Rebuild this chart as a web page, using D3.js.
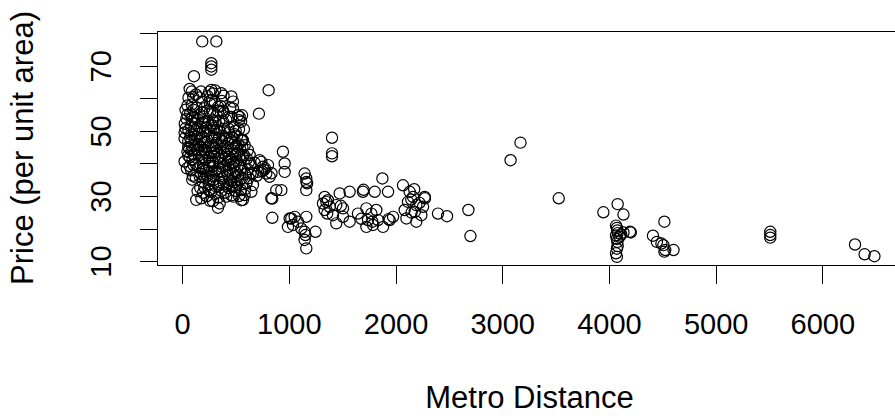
<!DOCTYPE html>
<html>
<head>
<meta charset="utf-8">
<script src="https://cdn.jsdelivr.net/npm/d3@7"></script>
<style>
body { margin: 0; background: #fff; }
svg text { font-family: "Liberation Sans", Arial, sans-serif; fill: #000; }
</style>
</head>
<body>
<svg width="895" height="418"></svg>
<script>
// metro distance vs price
var nearPoints = [
	[23.4,47.7],[23.4,49.5],[24.7,52.2],[49.7,55.0],[49.7,57.8],[57.6,45.1],[57.6,42.4],[23.4,40.6],[32.4,50.8],[40.8,53.7],[44.7,38.5],[49.7,43.6],[57.6,46.8],[32.4,56.5],
	[90.5,58.1],[90.5,62.1],[104.8,60.4],[104.8,56.5],[90.5,53.0],[82.9,51.4],[84.9,48.9],[84.9,46.6],[104.8,44.3],[72.1,41.9],[104.8,39.6],[84.9,37.9],[101.0,36.2],[111.2,66.8],[71.0,62.9],[112.3,50.2],[118.4,54.1],[118.4,47.4],[66.1,44.6],[75.2,55.4],[112.3,42.8],[95.0,35.0],
	[185.4,59.0],[185.4,55.6],[193.6,52.5],[196.6,50.0],[193.6,48.1],[150.9,46.0],[185.4,44.0],[157.6,42.5],[193.6,40.1],[196.6,38.3],[175.7,36.7],[193.6,34.4],[170.1,32.5],[180.0,29.3],[133.0,28.8],[150.9,53.5],[157.6,49.1],[170.1,45.3],[189.0,77.5],[135.0,57.2],[160.0,60.3],[185.4,42.0],[128.0,39.8],[165.0,36.0],[145.0,31.5],[196.6,31.0],[140.0,50.7],[178.0,62.1],
	[274.0,62.6],[274.0,70.8],[274.0,69.8],[274.0,68.8],[279.2,59.5],[208.4,57.0],[205.4,54.4],[279.2,51.6],[216.0,49.8],[279.2,47.9],[250.6,45.0],[274.0,43.2],[216.0,41.0],[250.6,39.2],[274.0,37.5],[216.0,35.6],[250.6,33.6],[274.0,31.3],[230.0,29.9],[262.0,55.9],[240.0,52.3],[262.0,58.4],[230.0,46.5],[262.0,40.7],[240.0,36.3],[208.4,32.7],[262.0,28.5],[216.0,44.1],[240.0,60.7],[205.4,38.6],[262.0,34.8],[279.2,45.2],[230.0,50.9],
	[321.0,77.5],[289.3,61.5],[306.6,58.8],[337.6,56.1],[289.3,53.2],[323.7,50.4],[306.6,48.0],[323.7,46.3],[306.6,44.7],[306.6,42.2],[289.3,40.5],[337.6,38.4],[323.7,36.8],[292.9,34.9],[337.6,33.1],[306.6,30.7],[289.3,28.4],[336.0,26.4],[337.6,57.4],[323.7,49.0],[292.9,45.5],[337.6,41.6],[289.3,36.1],[306.6,52.4],[337.6,29.5],[323.7,54.8],[292.9,39.2],
	[367.0,61.6],[388.0,60.8],[372.1,59.2],[390.6,55.5],[383.9,52.8],[350.9,50.0],[372.1,47.0],[390.6,43.1],[405.2,41.4],[368.1,42.3],[383.9,56.2],[350.9,37.4],[405.2,39.4],[372.1,35.4],[390.6,33.5],[368.1,31.6],[414.0,29.8],[352.0,27.7],[383.9,48.5],[405.2,45.2],[418.0,37.6],[360.0,44.6],[395.0,50.7],[414.0,53.4],[352.0,34.3],[405.2,31.0],
	[461.8,60.6],[477.0,59.0],[477.0,56.9],[451.2,57.1],[438.9,54.4],[482.8,51.2],[492.2,49.0],[431.1,46.2],[492.2,46.2],[461.8,44.2],[438.9,42.0],[482.8,40.3],[492.2,39.3],[480.7,38.8],[431.1,36.5],[461.8,34.6],[488.6,34.2],[438.9,32.4],[461.8,30.2],[482.8,29.8],[451.2,47.3],[461.8,54.3],[431.1,50.8],[498.0,42.7],[445.0,39.6],[475.0,36.8],[425.0,33.6],[498.0,31.6],
	[523.0,54.8],[533.5,53.3],[561.9,54.8],[539.0,54.3],[552.4,52.8],[561.9,47.3],[557.5,47.0],[533.5,50.5],[506.1,45.4],[515.1,43.0],[552.4,41.1],[533.5,39.3],[506.1,37.2],[561.9,35.5],[515.1,33.8],[552.4,31.8],[533.5,30.0],[570.0,28.8],[579.2,50.5],[570.0,47.2],[515.1,48.4],[545.0,44.3],[570.0,42.0],[525.0,36.4],[506.1,32.7],[545.0,37.8],
	[586.0,45.6],[577.9,42.6],[623.5,40.3],[616.4,38.2],[640.6,36.9],[602.0,34.0],[649.0,31.3],[586.0,30.3],[555.0,28.7],[664.0,33.4],[633.0,42.6],[602.0,33.9],[640.7,39.8],[616.4,44.1],[664.0,37.0],[623.5,35.5],[590.0,32.1],
	[726.0,41.0],[742.0,40.5],[758.0,39.0],[711.0,37.4],[789.0,36.9],[820.0,35.9],[805.0,39.5],[720.0,55.3],[811.0,62.5],[769.4,38.0],[680.0,40.2],[700.0,36.2],[837.7,37.0],[750.0,37.6],[777.0,38.5]
];

// extra points in the dense core
var corePoints = [
	[60.0,50.2],[75.0,47.8],[88.0,44.0],[70.0,39.2],[98.0,41.2],[115.0,45.5],[125.0,52.3],[138.0,48.2],[142.0,44.1],[128.0,35.7],
	[155.0,38.9],[163.0,55.0],[172.0,51.2],[178.0,47.5],[205.0,46.4],[212.0,52.8],[224.0,43.3],[226.0,38.0],[235.0,56.2],[245.0,48.6],
	[248.0,41.9],[255.0,31.9],[268.0,50.3],[285.0,55.8],[298.0,50.9],[300.0,43.3],[312.0,37.8],[315.0,33.0],[328.0,44.0],[345.0,47.6],
	[348.0,53.0],[358.0,40.2],[362.0,57.6],[376.0,45.8],[380.0,38.8],[398.0,35.9],[402.0,47.9],[420.0,43.9],[428.0,40.6],[442.0,49.5],
	[448.0,35.1],[455.0,41.3],[468.0,48.1],[472.0,32.8],[488.0,44.6],[502.0,50.1],[512.0,40.8],[528.0,45.9],[540.0,34.9],[558.0,38.6],
	[565.0,44.9],[590.0,36.7],[608.0,41.5],[95.0,54.2],[130.0,61.2],[255.0,62.0],[310.0,62.4],[60.0,60.2]
];

var midPoints = [
	[845.0,29.2],[845.0,23.3],[883.0,31.8],[836.0,29.3],[930.0,31.8],
	[945.0,43.6],[961.0,40.0],[961.0,37.4],[1008.0,23.1],[1039.0,21.1],[992.0,20.5],[1086.0,22.1],[1117.0,20.0],[1023.0,23.1],[1055.0,23.6],
	[1148.0,36.9],[1164.0,35.4],[1172.0,33.9],[1164.0,31.8],[1164.0,23.6],[1148.0,19.0],[1156.0,18.0],[1148.0,16.5],[1164.0,13.9],[1250.0,19.0],[1164.8,34.3],
	[1405.0,47.9],[1405.0,43.1],[1405.0,42.2],[1336.0,29.7],[1352.0,28.2],[1383.0,26.7],[1336.0,25.7],[1445.0,27.2],[1508.0,26.2],[1414.0,24.1],[1508.0,23.6],[1570.0,22.1],[1445.0,21.6],[1367.0,28.7],[1320.0,27.7],[1477.0,30.8],[1570.0,31.3],[1360.1,24.6],[1487.9,27.0],
	[1695.0,31.3],[1700.0,31.9],[1805.0,31.3],[1877.0,35.4],[1930.0,31.3],[1648.0,24.6],[1727.0,26.2],[1774.0,24.6],[1742.0,22.6],[1789.0,21.1],[1836.0,22.6],[1727.0,20.5],[1820.0,25.7],[1680.0,23.0],[1883.0,20.5],[1945.0,22.6],[1977.0,23.6],[1783.2,22.1],[1935.0,22.9],
	[2070.0,33.3],[2133.0,31.3],[2164.0,29.7],[2273.0,29.7],[2117.0,28.2],[2195.0,27.2],[2258.0,26.7],[2086.0,25.7],[2180.0,25.1],[2242.0,24.1],[2102.0,23.1],[2195.0,22.1],[2148.0,28.9],[2175.0,32.1],[2276.0,29.3],[2225.0,27.9],[2150.0,24.9],
	[2398.0,24.6],[2483.0,23.8],[2683.0,25.7],[2702.0,17.7]
];

var farPoints = [
	[3078.2,41.0],[3171.3,46.4],[3529.6,29.3],
	[3947.9,25.0],[4082.0,27.5],[4136.3,24.3],
	[4066.6,20.9],[4074.7,20.2],[4079.4,19.4],[4082.0,18.6],[4066.6,17.9],[4074.7,16.8],[4079.4,15.9],[4082.0,14.6],[4074.7,13.8],[4066.6,12.4],[4074.7,11.3],[4136.3,18.8],[4197.3,19.0],[4205.0,18.8],[4100.0,17.5],[4115.0,18.2],
	[4519.7,22.1],[4412.8,17.8],[4449.3,15.9],[4492.0,15.4],[4510.4,14.9],[4527.7,13.4],[4605.7,13.4],[4519.7,12.9],
	[5512.0,19.0],[5512.0,18.0],[5512.0,17.2],
	[6306.2,15.1],[6396.3,12.1],[6488.0,11.5]
];

var xTicks = [0, 1000, 2000, 3000, 4000, 5000, 6000];
var yTicks = [10, 20, 30, 40, 50, 60, 70, 80];
var yLabels = [10, 30, 50, 70];

var svg = d3.select("svg");
var font = "'Liberation Sans', Arial, sans-serif";

// plot box edges (right edge runs past the picture)
var box = {left: 157, right: 902, top: 31, bottom: 265};

var x = d3.scaleLinear()
	.domain([-235.2, 6746.6])
	.range([box.left, box.right]);

var y = d3.scaleLinear()
	.domain([8.8, 80.7])
	.range([box.bottom, box.top]);

var data = nearPoints.concat(corePoints, midPoints, farPoints);

// the points
svg.append("g")
	.selectAll("circle")
	.data(data)
	.enter().append("circle")
	.attr("cx", function(d) { return x(d[0]); })
	.attr("cy", function(d) { return y(d[1]); })
	.attr("r", 5.6)
	.attr("fill", "none")
	.attr("stroke", "#000")
	.attr("stroke-width", 1.2);

// box
svg.append("rect")
	.attr("x", box.left + 0.5)
	.attr("y", box.top + 0.5)
	.attr("width", box.right - box.left)
	.attr("height", box.bottom - box.top)
	.attr("fill", "none")
	.attr("stroke", "#000")
	.attr("stroke-width", 1)
	.attr("shape-rendering", "crispEdges");

// x axis
var xAxis = svg.append("g")
	.attr("transform", "translate(0," + (box.bottom + 0.5) + ")")
	.call(d3.axisBottom(x).tickValues(xTicks).tickSize(18).tickPadding(30)
		.tickFormat(d3.format("d")));
xAxis.select(".domain").remove();
xAxis.selectAll("line").attr("stroke", "#000").attr("shape-rendering", "crispEdges");
xAxis.selectAll("text")
	.attr("font-size", 29)
	.attr("font-family", font)
	.attr("fill", "#000");

// y axis, only every other tick gets a label
var yAxis = svg.append("g")
	.attr("transform", "translate(" + (box.left + 0.5) + ",0)")
	.call(d3.axisLeft(y).tickValues(yTicks).tickSize(18)
		.tickFormat(function(d) { return yLabels.indexOf(d) >= 0 ? d : ""; }));
yAxis.select(".domain").remove();
yAxis.selectAll("line").attr("stroke", "#000").attr("shape-rendering", "crispEdges");
yAxis.selectAll("text")
	.attr("transform", "rotate(-90)")
	.attr("x", 0)
	.attr("y", -47)
	.attr("dy", 0)
	.attr("text-anchor", "middle")
	.attr("font-size", 29)
	.attr("font-family", font)
	.attr("fill", "#000");

// axis titles
svg.append("text")
	.attr("x", (box.left + box.right) / 2)
	.attr("y", 408)
	.attr("text-anchor", "middle")
	.attr("font-size", 31)
	.text("Metro Distance");

svg.append("text")
	.attr("transform", "translate(33,148) rotate(-90)")
	.attr("text-anchor", "middle")
	.attr("font-size", 31)
	.text("Price (per unit area)");
</script>
</body>
</html>
